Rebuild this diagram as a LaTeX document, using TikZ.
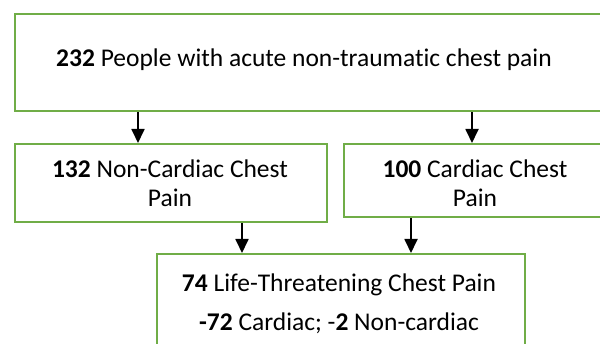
\documentclass[tikz,border=0pt]{standalone}
\usepackage{fontspec}
\setmainfont{Carlito}[Ligatures=NoCommon]
\usetikzlibrary{arrows.meta}
\definecolor{boxgreen}{RGB}{112,173,71}
\begin{document}
\begin{tikzpicture}[x=1pt,y=-1pt,
  box/.style={draw=boxgreen,line width=2.4pt,rectangle,inner sep=0pt,anchor=north west},
  txt/.style={anchor=base,inner sep=0pt,font=\fontsize{25.5}{30}\selectfont},
  arr/.style={draw=black,line width=1.8pt,-{Triangle[length=14pt,width=13pt]}}]
\useasboundingbox (0,0) rectangle (600,344);
\clip (0,0) rectangle (600,344);
\fill[white] (0,0) rectangle (600,344);
% boxes
\node[box,minimum width=590pt,minimum height=97pt] (top) at (14,13) {};
\node[box,minimum width=312pt,minimum height=78pt] (left) at (14,143) {};
\node[box,minimum width=264pt,minimum height=73pt] (right) at (343,143) {};
\node[box,minimum width=368pt,minimum height=100pt] (bottom) at (156,253) {};
% texts
\node[txt] (t0) at (304,67) {\textbf{232} People with acute non-traumatic chest pain};
\node[txt] (t1) at (170,178) {\textbf{132} Non-Cardiac Chest};
\node[txt] (t2) at (170,207) {Pain};
\node[txt] (t3) at (475,178) {\textbf{100} Cardiac Chest};
\node[txt] (t4) at (475,207) {Pain};
\node[txt] (t5) at (339,292) {\textbf{74} Life-Threatening Chest Pain};
\node[txt] (t6) at (339,331) {\textbf{-72} Cardiac; -\textbf{2} Non-cardiac};
% arrow columns
\coordinate (c1) at (138,0);
\coordinate (c2) at (472,0);
\coordinate (c3) at (242,0);
\coordinate (c4) at (411,0);
\draw[arr] (top.south -| c1) -- (left.north -| c1);
\draw[arr] (top.south -| c2) -- (right.north -| c2);
\draw[arr] (left.south -| c3) -- (bottom.north -| c3);
\draw[arr] (right.south -| c4) -- (bottom.north -| c4);
\end{tikzpicture}
\end{document}
